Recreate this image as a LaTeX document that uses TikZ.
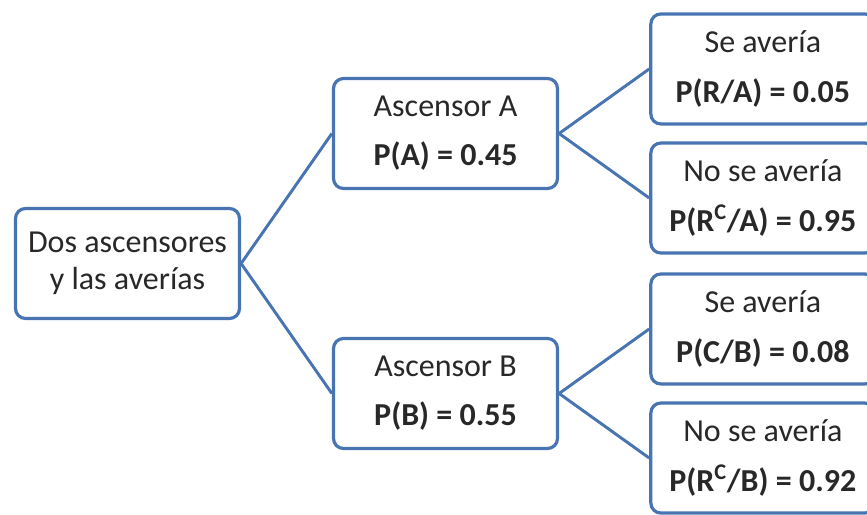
\documentclass[tikz,border=0pt]{standalone}
\usepackage{fontspec}
\setmainfont{Carlito}
\usetikzlibrary{positioning}
\definecolor{boxblue}{RGB}{72,116,178}
\definecolor{textgray}{RGB}{40,40,40}

\begin{document}
\begin{tikzpicture}[node distance=2cm, on grid, thick]
		
		% Styles
		\tikzstyle{block} = [draw=boxblue, line width=2.4pt, rounded corners=7.5pt, align=center, text=textgray, fill=white, inner sep=0pt, minimum width=168pt, minimum height=82.5pt, font=\fontsize{24}{27.75}\selectfont];
		\tikzstyle{branch} = [draw=boxblue, line width=2.2pt];
		
		% Frame
		\clip (-95.625pt,-187.875pt) rectangle (554.625pt,197.625pt);
		
		% Nodes
		\node[block] (root)
		{Dos ascensores\\y las averías};
		
		\node[block, above right=97.5pt and 238.5pt of root] (ascA)
		{Ascensor A\\[9pt] \textbf{P(A) = 0.45}};
		
		\node[block, below right=97.5pt and 238.5pt of root] (ascB)
		{Ascensor B\\[9pt] \textbf{P(B) = 0.55}};
		
		\node[block, above right=48.4pt and 238pt of ascA] (aFalla)
		{Se avería\\[9.5pt] \textbf{P(R/A) = 0.05}};
		
		\node[block, below right=48.4pt and 238pt of ascA] (aBien)
		{No se avería\\[9.5pt] \textbf{P(R\textsuperscript{C}/A) = 0.95}};
		
		\node[block, above right=48.4pt and 238pt of ascB] (bFalla)
		{Se avería\\[9.5pt] \textbf{P(C/B) = 0.08}};
		
		\node[block, below right=48.4pt and 238pt of ascB] (bBien)
		{No se avería\\[9.5pt] \textbf{P(R\textsuperscript{C}/B) = 0.92}};
		
		% Lines
		\draw[branch] (root.east) -- (ascA.west);
		\draw[branch] (root.east) -- (ascB.west);
		\draw[branch] (ascA.east) -- (aFalla.west);
		\draw[branch] (ascA.east) -- (aBien.west);
		\draw[branch] (ascB.east) -- (bFalla.west);
		\draw[branch] (ascB.east) -- (bBien.west);
		
	\end{tikzpicture}
\end{document}
